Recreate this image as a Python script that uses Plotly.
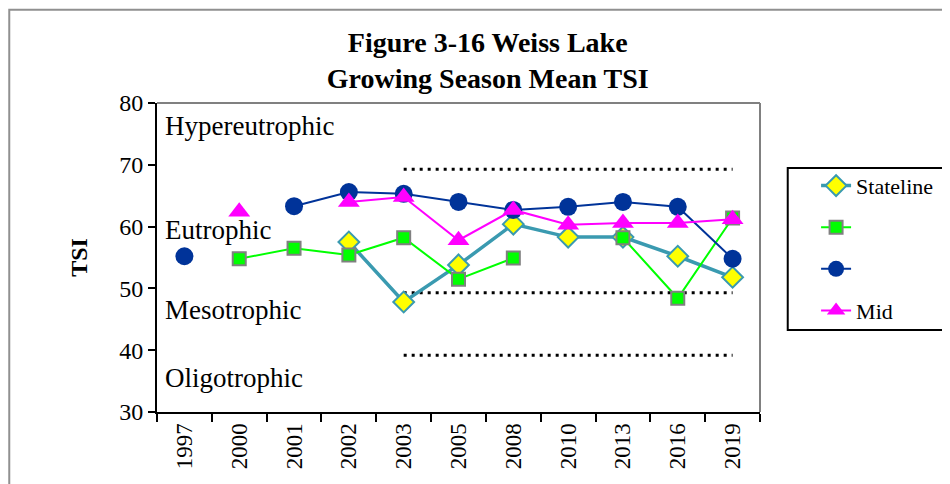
import plotly.graph_objects as go

years = ["1997", "2000", "2001", "2002", "2003", "2005", "2008", "2010", "2013", "2016", "2019"]

stateline = [None, None, None, 57.5, 47.8, 53.8, 60.4, 58.3, 58.3, 55.2, 51.8]
green_site = [None, 54.8, 56.5, 55.4, 58.2, 51.5, 54.9, None, 58.2, 48.4, 61.4]
navy_site = [55.2, None, 63.3, 65.6, 65.3, 64.0, 62.7, 63.2, 64.0, 63.2, 54.8]
mid = [None, 62.4, None, 64.0, 64.8, 57.8, 62.7, 60.3, 60.6, 60.6, 61.2]

# trophic boundaries (dotted), drawn across 2003-2019
bound_years = years[4:]
bounds = [69.3, 49.3, 39.2]

zones = ["Hypereutrophic", "Eutrophic", "Mesotrophic", "Oligotrophic"]
zone_y = [76.3, 59.4, 46.5, 35.5]

SERIF = "Liberation Serif, Times New Roman, serif"

fig = go.Figure()

for b in bounds:
    fig.add_trace(go.Scatter(
        x=bound_years, y=[b] * len(bound_years), mode="lines",
        line=dict(color="black", width=3, dash="3px,5px"),
        showlegend=False, hoverinfo="skip",
    ))

fig.add_trace(go.Scatter(
    x=years, y=stateline, name="Stateline", mode="lines+markers", legendgroup="a",
    line=dict(color="#3A9AB0", width=3.5),
    marker=dict(symbol="diamond", size=16, color="#FFFF00", line=dict(color="#3A9AB0", width=2)),
))
fig.add_trace(go.Scatter(
    x=years, y=green_site, name=" ", mode="lines+markers", legendgroup="b",
    line=dict(color="#00FF00", width=2),
    marker=dict(symbol="square", size=13, color="#00FF00", line=dict(color="#808080", width=2)),
))
fig.add_trace(go.Scatter(
    x=years, y=navy_site, name="  ", mode="lines+markers", legendgroup="c",
    line=dict(color="#003399", width=2),
    marker=dict(symbol="circle", size=18, color="#003399"),
))
fig.add_trace(go.Scatter(
    x=years, y=mid, name="Mid", mode="lines+markers", legendgroup="d",
    line=dict(color="#FF00FF", width=2),
    marker=dict(symbol="triangle-up", size=19, color="#FF00FF"),
))

for name, yv in zip(zones, zone_y):
    fig.add_annotation(x=0.01, xref="paper", y=yv, yref="y", text=name, showarrow=False,
                       xanchor="left", yanchor="middle", font=dict(size=27, color="black", family=SERIF))

# frame pieces: gray top/right of plot area, legend box, outer border
fig.add_shape(type="line", xref="paper", yref="paper", x0=0, x1=1, y0=1, y1=1,
              line=dict(color="#808080", width=2))
fig.add_shape(type="line", xref="paper", yref="paper", x0=1, x1=1, y0=0, y1=1,
              line=dict(color="#808080", width=2))
fig.add_shape(type="rect", xref="paper", yref="paper", x0=1.046, x1=1.312, y0=0.265, y1=0.79,
              line=dict(color="black", width=2))
fig.add_shape(type="rect", xref="paper", yref="paper", x0=-0.245, x1=1.33, y0=-0.3, y1=1.302,
              line=dict(color="#909090", width=2))

fig.update_layout(
    width=950, height=484,
    margin=dict(l=149, r=198, t=95, b=80),
    paper_bgcolor="white", plot_bgcolor="white",
    font=dict(family=SERIF, color="black"),
    title=dict(text="<b>Figure 3-16 Weiss Lake<br>Growing Season Mean TSI</b>",
               x=0.505, xanchor="center", y=0.91, yanchor="top",
               font=dict(size=28, family=SERIF, color="black")),
    showlegend=True,
    legend=dict(x=1.093, xanchor="left", y=0.80, yanchor="top",
                bgcolor="rgba(0,0,0,0)", borderwidth=0,
                font=dict(size=22, family=SERIF, color="black"),
                traceorder="grouped", tracegroupgap=10),
)
fig.update_xaxes(
    type="category", categoryorder="array", categoryarray=years, range=[-0.5, 10.5],
    showline=True, linecolor="black", linewidth=2, showgrid=False, zeroline=False,
    ticks="outside", tickson="boundaries", ticklen=8, tickwidth=1.5, tickcolor="black",
    tickangle=-90, tickfont=dict(size=23, family=SERIF, color="black"),
)
fig.update_yaxes(
    range=[30, 80], dtick=10, showline=True, linecolor="black", linewidth=2,
    showgrid=False, zeroline=False, ticks="outside", ticklen=7, tickwidth=1.5, tickcolor="black",
    tickfont=dict(size=24, family=SERIF, color="black"),
    title=dict(text="<b>TSI</b>", font=dict(size=24, family=SERIF, color="black"), standoff=25),
)

fig.write_html("out.html")
